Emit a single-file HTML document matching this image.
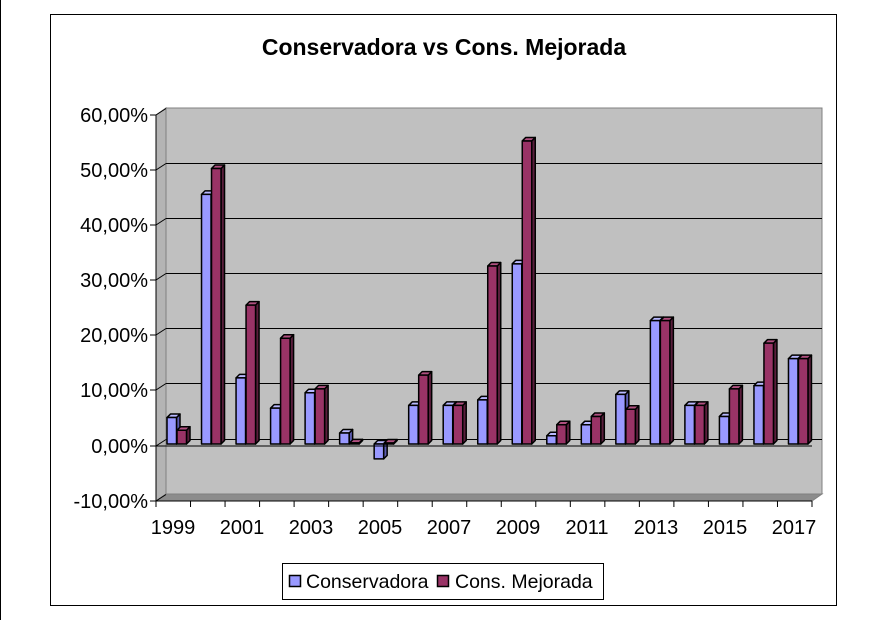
<!DOCTYPE html>
<html><head><meta charset="utf-8"><style>
html,body{margin:0;padding:0;background:#fff;}
svg{display:block;font-family:"Liberation Sans",Arial,sans-serif;}
</style></head><body>
<svg id="s" width="877" height="620" viewBox="0 0 877 620" xmlns="http://www.w3.org/2000/svg">
<rect x="0" y="0" width="877" height="620" fill="#fff"/>
<line x1="0.5" y1="0" x2="0.5" y2="620" stroke="#000"/>
<rect x="50.5" y="14.5" width="786" height="591" fill="#fff" stroke="#000"/>
<text x="444" y="55" text-anchor="middle" font-size="23" font-weight="bold">Conservadora vs Cons. Mejorada</text>
<polygon points="166,108 822,108 822,494 166,494" fill="#c0c0c0" stroke="#808080"/>
<polygon points="156,115 166,108 166,494 156,501" fill="#b4b4b4" stroke="#808080"/>
<polygon points="156,501 166,494 822,494 812,501" fill="#8c8c8c" stroke="#808080"/>
<g id="grid" stroke="#000" stroke-width="1"></g>
<g id="bars" stroke="#000" stroke-width="1.5" stroke-linejoin="round"></g>
<line x1="156" y1="115" x2="156" y2="501" stroke="#000"/>
<line x1="156" y1="501" x2="812" y2="501" stroke="#000"/>
<line x1="156" y1="446" x2="812" y2="446" stroke="#000"/>
<g id="ticks" stroke="#000"></g>
<g font-size="20" text-anchor="end">
<text x="148" y="122">60,00%</text>
<text x="148" y="177">50,00%</text>
<text x="148" y="232">40,00%</text>
<text x="148" y="287">30,00%</text>
<text x="148" y="342">20,00%</text>
<text x="148" y="397">10,00%</text>
<text x="148" y="453">0,00%</text>
<text x="148" y="508">-10,00%</text>
</g>
<g font-size="20" text-anchor="middle">
<text x="173" y="534">1999</text>
<text x="242" y="534">2001</text>
<text x="311" y="534">2003</text>
<text x="380" y="534">2005</text>
<text x="449" y="534">2007</text>
<text x="518" y="534">2009</text>
<text x="587" y="534">2011</text>
<text x="656" y="534">2013</text>
<text x="725" y="534">2015</text>
<text x="794" y="534">2017</text>
</g>
<rect x="282.5" y="563.5" width="321" height="36" fill="#fff" stroke="#000"/>
<rect x="289.5" y="575.5" width="11" height="11" fill="#9999ff" stroke="#000" stroke-width="1.5"/>
<text x="306" y="588" font-size="19.5">Conservadora</text>
<rect x="437.5" y="575.5" width="11" height="11" fill="#993366" stroke="#000" stroke-width="1.5"/>
<text x="455" y="588" font-size="19.5">Cons. Mejorada</text>
</svg>
<script>
(function(){
var ns="http://www.w3.org/2000/svg";
function el(p,t,a){var e=document.createElementNS(ns,t);for(var k in a)e.setAttribute(k,a[k]);p.appendChild(e);return e;}
var g=document.getElementById("grid");
var tv=[115,170,225,280,335,390,446,501];
for(var i=0;i<tv.length;i++){var y=tv[i];
 if(i>0&&i<7){el(g,"line",{x1:166,y1:y-6.5,x2:822,y2:y-6.5});}
 el(g,"line",{x1:156,y1:y,x2:166,y2:y-6.5});
}
var tk=document.getElementById("ticks");
for(var i=0;i<tv.length;i++)el(tk,"line",{x1:150,y1:tv[i],x2:156,y2:tv[i]});
var cw=656/19;
for(var i=0;i<=19;i++){var x=156+cw*i;el(tk,"line",{x1:x,y1:501,x2:x,y2:507});}
var A=[4.8,45.3,12,6.5,9.3,2,-2.7,7,7,8,32.7,1.5,3.5,9,22.4,7,5,10.6,15.5];
var B=[2.5,50,25.2,19.2,10,0.2,0,12.5,7,32.3,55,3.5,5,6.3,22.4,7,10,18.3,15.5];
var bg=document.getElementById("bars");
var base=444,k=5.51,w=9.5,dx=3.5,dy=3.5;
function bar(x,v,c,side,top){
 var y1=base-Math.max(v,0)*k,y2=base-Math.min(v,0)*k;
 if(Math.abs(y2-y1)<1){y1=base-1;y2=base;}
 el(bg,"polygon",{points:[x+w,y1,x+w+dx,y1-dy,x+w+dx,y2-dy,x+w,y2].join(","),fill:side});
 el(bg,"polygon",{points:[x,y1,x+dx,y1-dy,x+w+dx,y1-dy,x+w,y1].join(","),fill:top});
 el(bg,"rect",{x:x,y:y1,width:w,height:y2-y1,fill:c});
}
for(var i=0;i<19;i++){
 var x0=156+cw*i+11;
 bar(x0,A[i],"#9999ff","#5c5cb0","#b8b8ff");
 bar(x0+w+0.5,B[i],"#993366","#5a1e3c","#b05080");
}
})();
</script>
</body></html>
